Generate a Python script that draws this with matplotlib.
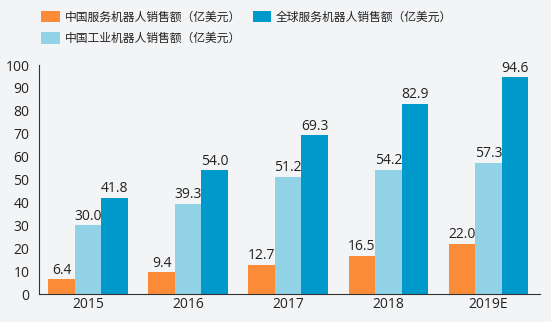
import matplotlib
matplotlib.use("Agg")
import matplotlib.pyplot as plt
import numpy as np
from matplotlib.patches import Patch

plt.rcParams['font.family'] = ['Open Sans', 'Noto Sans CJK SC', 'DejaVu Sans']

years = ["2015", "2016", "2017", "2018", "2019E"]
china_service = [6.4, 9.4, 12.7, 16.5, 22.0]
china_industrial = [30.0, 39.3, 51.2, 54.2, 57.3]
global_service = [41.8, 54.0, 69.3, 82.9, 94.6]
series_names = ["中国服务机器人销售额（亿美元）", "中国工业机器人销售额（亿美元）", "全球服务机器人销售额（亿美元）"]
colors = ["#FB8B37", "#92D2E6", "#0099CB"]

fig = plt.figure(figsize=(5.51, 3.22), dpi=100)
fig.patch.set_facecolor("#F3F4F6")
ax = fig.add_axes([0.0708, 0.0869, 0.91, 0.711])
ax.set_facecolor("#F3F4F6")

x = np.arange(len(years))
w = 0.265
data = [china_service, china_industrial, global_service]
for i, (vals, c) in enumerate(zip(data, colors)):
    xs = x + (i - 1) * w
    ax.bar(xs, vals, width=w, color=c, edgecolor="none", zorder=2)
    for xx, v in zip(xs, vals):
        ax.text(xx, v + 0.8, f"{v:.1f}", ha="center", va="bottom", fontsize=10, color="#222222")

ax.set_xlim(-0.49, 4.52)
ax.set_ylim(0, 100)
ax.set_yticks(range(0, 101, 10))
ax.set_xticks(x)
ax.set_xticklabels(years)
ax.tick_params(axis="both", length=0, labelsize=10, colors="#222222")
ax.tick_params(axis="y", pad=7)
ax.tick_params(axis="x", pad=2)
for s in ["top", "right"]:
    ax.spines[s].set_visible(False)
ax.spines["left"].set_color("#333333")
ax.spines["bottom"].set_color("#333333")
ax.spines["left"].set_linewidth(0.8)
ax.spines["bottom"].set_linewidth(0.8)

handles = [Patch(facecolor=c, edgecolor="none") for c in colors]
leg = fig.legend(handles, series_names,
                 loc="upper left", bbox_to_anchor=(0.056, 1.0), ncol=2, frameon=False,
                 fontsize=8.5,
                 handlelength=1.55, handleheight=1.15, columnspacing=1.0,
                 labelspacing=0.7, handletextpad=0.4)
for t in leg.get_texts():
    t.set_color("#222222")
    t.set_fontfamily(['Noto Sans CJK SC', 'DejaVu Sans'])

fig.savefig("out.png", dpi=100, facecolor=fig.get_facecolor())
